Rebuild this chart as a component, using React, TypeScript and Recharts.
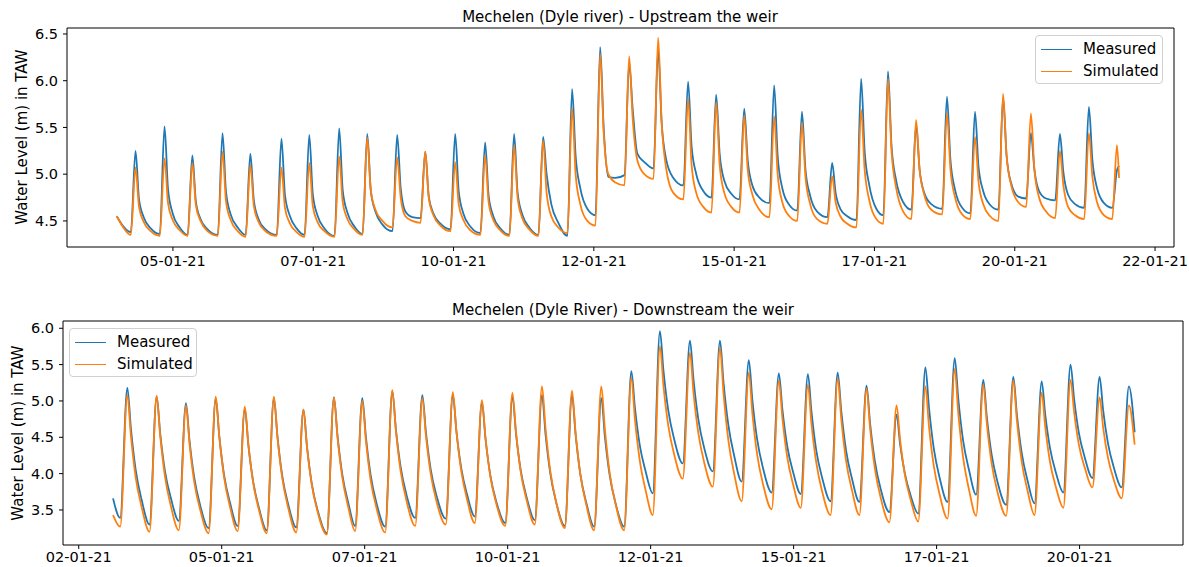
import React from "react";
import { LineChart, Line, XAxis, YAxis, ReferenceArea } from "recharts";

// upstream panel: hours since 04-01-21 00:00
const upHours = [
  0, 2.5,
  6.0, 8.0, 9.5, 11.5, 14.5,
  18.4, 20.4, 21.9, 23.9, 26.9,
  30.3, 32.3, 33.8, 35.8, 38.8,
  43.2, 45.2, 46.7, 48.7, 51.7,
  55.1, 57.1, 58.6, 60.6, 63.6,
  68.4, 70.4, 71.9, 73.9, 76.9,
  80.3, 82.3, 83.8, 85.8, 88.8,
  93.1, 95.1, 96.6, 98.6, 101.6,
  105.1, 107.1, 108.6, 110.6, 113.6,
  117.9, 119.9, 121.4, 123.4, 126.4,
  129.9, 131.9, 133.4, 135.4, 138.4,
  142.7, 144.7, 146.2, 148.2, 151.2,
  155.5, 157.5, 159.0, 161.0, 164.0,
  167.9, 169.9, 171.4, 173.4, 176.4,
  180.3, 182.3, 183.8, 185.8, 188.8,
  192.7, 194.7, 196.2, 198.2, 201.2,
  204.7, 206.7, 208.2, 210.2, 213.2,
  217.1, 219.1, 220.6, 222.6, 225.6,
  229.5, 231.5, 233.0, 235.0, 238.0,
  242.3, 244.3, 245.8, 247.8, 250.8,
  254.3, 256.3, 257.8, 259.8, 262.8,
  266.3, 268.3, 269.8, 271.8, 274.8,
  279.1, 281.1, 282.6, 284.6, 287.6,
  291.0, 293.0, 294.5, 296.5, 299.5,
  303.9, 305.9, 307.4, 309.4, 312.4,
  316.3, 318.3, 319.8, 321.8, 324.8,
  327.8, 329.8, 331.3, 333.3, 336.3,
  339.8, 341.8, 343.3, 345.3, 348.3,
  353.0, 355.0, 356.5, 358.5, 361.5,
  365.0, 367.0, 368.5, 370.5, 373.5,
  377.0, 379.0, 380.5, 382.5, 385.5,
  388.9, 390.9, 392.4, 394.4, 397.4,
  401.3, 403.3, 404.8, 406.8, 409.8,
  413.7, 415.7, 417.2, 419.2, 422.2,
  425.7, 427.7, 428.6,
];

const upMeasured = [
  4.55, 4.45,
  4.38, 5.25, 4.73, 4.54, 4.42,
  4.36, 5.51, 4.84, 4.58, 4.43,
  4.35, 5.20, 4.71, 4.52, 4.41,
  4.35, 5.44, 4.81, 4.57, 4.43,
  4.35, 5.22, 4.72, 4.52, 4.41,
  4.35, 5.38, 4.78, 4.56, 4.42,
  4.35, 5.42, 4.79, 4.56, 4.42,
  4.34, 5.49, 4.83, 4.59, 4.44,
  4.36, 5.43, 4.83, 4.60, 4.46,
  4.39, 5.42, 4.85, 4.60, 4.54,
  4.53, 5.24, 4.76, 4.58, 4.47,
  4.41, 5.43, 4.82, 4.58, 4.44,
  4.37, 5.34, 4.77, 4.55, 4.42,
  4.35, 5.43, 4.80, 4.57, 4.43,
  4.35, 5.40, 5.00, 4.68, 4.48,
  4.34, 5.91, 5.20, 4.85, 4.63,
  4.56, 6.36, 5.50, 4.97, 4.96,
  4.99, 6.19, 5.70, 5.22, 5.13,
  5.06, 6.33, 5.55, 5.15, 4.96,
  4.88, 5.99, 5.30, 5.00, 4.82,
  4.75, 5.85, 5.22, 4.93, 4.79,
  4.73, 5.70, 5.15, 4.88, 4.75,
  4.69, 5.95, 5.20, 4.85, 4.67,
  4.61, 5.67, 5.05, 4.77, 4.60,
  4.54, 5.12, 4.80, 4.63, 4.55,
  4.51, 6.02, 5.25, 4.88, 4.63,
  4.56, 6.10, 5.30, 4.93, 4.70,
  4.62, 5.53, 5.05, 4.80, 4.68,
  4.63, 5.83, 5.15, 4.83, 4.64,
  4.58, 5.67, 5.08, 4.82, 4.67,
  4.62, 5.82, 5.20, 4.90, 4.76,
  4.74, 5.44, 5.05, 4.82, 4.74,
  4.72, 5.43, 5.02, 4.78, 4.68,
  4.64, 5.72, 5.15, 4.85, 4.69,
  4.64, 5.04, 5.09,
];

const upSimulated = [
  4.55, 4.44,
  4.35, 5.07, 4.65, 4.49, 4.39,
  4.34, 5.17, 4.69, 4.51, 4.40,
  4.34, 5.12, 4.67, 4.50, 4.39,
  4.34, 5.24, 4.71, 4.51, 4.39,
  4.33, 5.10, 4.66, 4.49, 4.39,
  4.34, 5.07, 4.64, 4.48, 4.38,
  4.33, 5.12, 4.66, 4.49, 4.39,
  4.33, 5.19, 4.70, 4.52, 4.41,
  4.35, 5.39, 4.83, 4.62, 4.50,
  4.43, 5.18, 4.75, 4.55, 4.50,
  4.48, 5.24, 4.75, 4.56, 4.45,
  4.39, 5.13, 4.68, 4.51, 4.40,
  4.35, 5.20, 4.70, 4.51, 4.40,
  4.34, 5.31, 4.75, 4.53, 4.41,
  4.34, 5.36, 4.80, 4.55, 4.43,
  4.37, 5.71, 5.00, 4.68, 4.50,
  4.45, 6.29, 5.45, 5.00, 4.91,
  4.88, 6.26, 5.60, 5.15, 5.00,
  4.95, 6.46, 5.55, 5.05, 4.80,
  4.73, 5.81, 5.10, 4.80, 4.65,
  4.59, 5.77, 5.10, 4.80, 4.65,
  4.59, 5.63, 5.05, 4.78, 4.62,
  4.54, 5.62, 5.00, 4.70, 4.55,
  4.50, 5.55, 4.97, 4.68, 4.52,
  4.47, 4.98, 4.70, 4.55, 4.47,
  4.43, 5.69, 5.05, 4.72, 4.52,
  4.47, 6.02, 5.25, 4.85, 4.60,
  4.52, 5.58, 5.05, 4.78, 4.62,
  4.57, 5.65, 5.05, 4.75, 4.57,
  4.52, 5.40, 4.92, 4.68, 4.55,
  4.50, 5.86, 5.20, 4.88, 4.70,
  4.65, 5.65, 5.05, 4.75, 4.60,
  4.53, 5.25, 4.88, 4.65, 4.56,
  4.52, 5.44, 4.97, 4.70, 4.56,
  4.52, 5.31, 4.96,
];

const upTicks = [24, 84, 144, 204, 264, 324, 384, 444];
const upTickLabels = ["05-01-21", "07-01-21", "10-01-21", "12-01-21", "15-01-21", "17-01-21", "20-01-21", "22-01-21"];
const upLevelTicks = [4.5, 5.0, 5.5, 6.0, 6.5];

// downstream panel: hours since 03-01-21 00:00
const downHours = [
  2.4,
  5.4, 8.4, 9.9, 11.9, 14.4,
  17.7, 20.7, 22.2, 24.2, 26.7,
  30.0, 33.0, 34.5, 36.5, 39.0,
  42.5, 45.5, 47.0, 49.0, 51.5,
  54.7, 57.7, 59.2, 61.2, 63.7,
  66.9, 69.9, 71.4, 73.4, 75.9,
  79.3, 82.3, 83.8, 85.8, 88.3,
  92.1, 95.1, 96.6, 98.6, 101.1,
  104.0, 107.0, 108.5, 110.5, 113.0,
  116.6, 119.6, 121.1, 123.1, 125.6,
  129.2, 132.2, 133.7, 135.7, 138.2,
  142.0, 145.0, 146.5, 148.5, 151.0,
  154.2, 157.2, 158.7, 160.7, 163.2,
  167.0, 170.0, 171.5, 173.5, 176.0,
  179.4, 182.4, 183.9, 185.9, 188.4,
  192.0, 195.0, 196.5, 198.5, 201.0,
  204.3, 207.3, 208.8, 210.8, 213.3,
  216.9, 219.9, 221.4, 223.4, 225.9,
  228.9, 231.9, 233.4, 235.4, 237.9,
  241.5, 244.5, 246.0, 248.0, 250.5,
  254.1, 257.1, 258.6, 260.6, 263.1,
  266.2, 269.2, 270.7, 272.7, 275.2,
  278.8, 281.8, 283.3, 285.3, 287.8,
  291.0, 294.0, 295.5, 297.5, 300.0,
  303.5, 306.5, 308.0, 310.0, 312.5,
  315.6, 318.6, 320.1, 322.1, 324.6,
  328.2, 331.2, 332.7, 334.7, 337.2,
  340.3, 343.3, 344.8, 346.8, 349.3,
  352.6, 355.6, 357.1, 359.1, 361.6,
  364.6, 367.6, 369.1, 371.1, 373.6,
  377.2, 380.2, 381.7, 383.7, 386.2,
  389.1, 392.1, 393.6, 395.6, 398.1,
  401.2, 404.2, 405.7, 407.7, 410.2,
  413.4, 416.4, 417.9, 419.9, 422.4,
  425.7, 428.7, 431.1,
];

const downMeasured = [
  3.66,
  3.39, 5.18, 4.62, 4.05, 3.64,
  3.30, 5.06, 4.55, 4.03, 3.66,
  3.35, 4.97, 4.45, 3.94, 3.56,
  3.25, 5.03, 4.51, 3.98, 3.60,
  3.28, 4.89, 4.39, 3.89, 3.52,
  3.22, 5.04, 4.51, 3.97, 3.58,
  3.26, 4.88, 4.37, 3.86, 3.49,
  3.18, 5.05, 4.52, 3.99, 3.60,
  3.28, 5.04, 4.51, 3.98, 3.59,
  3.27, 5.13, 4.61, 4.09, 3.70,
  3.39, 5.08, 4.57, 4.06, 3.69,
  3.38, 5.08, 4.58, 4.08, 3.71,
  3.41, 4.98, 4.48, 3.98, 3.62,
  3.32, 5.06, 4.55, 4.04, 3.67,
  3.36, 5.08, 4.54, 4.00, 3.60,
  3.28, 5.08, 4.54, 3.99, 3.60,
  3.27, 5.04, 4.51, 3.98, 3.59,
  3.27, 5.41, 4.91, 4.40, 4.03,
  3.73, 5.96, 5.41, 4.87, 4.47,
  4.14, 5.83, 5.29, 4.75, 4.35,
  4.03, 5.83, 5.25, 4.67, 4.24,
  3.89, 5.56, 5.01, 4.47, 4.07,
  3.74, 5.38, 4.88, 4.38, 4.02,
  3.72, 5.37, 4.85, 4.32, 3.94,
  3.62, 5.39, 4.86, 4.32, 3.93,
  3.61, 5.21, 4.69, 4.17, 3.78,
  3.47, 4.81, 4.40, 4.00, 3.69,
  3.45, 5.46, 4.91, 4.35, 3.94,
  3.61, 5.59, 5.03, 4.46, 4.05,
  3.71, 5.29, 4.77, 4.26, 3.88,
  3.57, 5.33, 4.81, 4.29, 3.90,
  3.59, 5.27, 4.81, 4.35, 4.01,
  3.74, 5.50, 5.03, 4.56, 4.22,
  3.94, 5.33, 4.87, 4.42, 4.08,
  3.81, 5.20, 4.57,
];

const downSimulated = [
  3.43,
  3.27, 5.08, 4.52, 3.95, 3.54,
  3.20, 5.07, 4.52, 3.96, 3.55,
  3.22, 4.94, 4.41, 3.88, 3.50,
  3.18, 5.06, 4.51, 3.95, 3.54,
  3.21, 4.92, 4.40, 3.88, 3.49,
  3.18, 5.06, 4.50, 3.94, 3.53,
  3.19, 4.88, 4.36, 3.85, 3.47,
  3.16, 5.05, 4.50, 3.95, 3.54,
  3.21, 5.00, 4.46, 3.91, 3.52,
  3.19, 5.15, 4.59, 4.03, 3.62,
  3.28, 5.04, 4.52, 4.00, 3.61,
  3.30, 5.12, 4.58, 4.04, 3.64,
  3.32, 5.01, 4.49, 3.97, 3.59,
  3.28, 5.11, 4.57, 4.02, 3.63,
  3.30, 5.20, 4.62, 4.03, 3.60,
  3.25, 5.14, 4.56, 3.99, 3.57,
  3.22, 5.20, 4.61, 4.01, 3.58,
  3.22, 5.32, 4.75, 4.19, 3.77,
  3.43, 5.75, 5.20, 4.66, 4.26,
  3.93, 5.66, 5.11, 4.56, 4.15,
  3.82, 5.73, 5.10, 4.46, 3.99,
  3.62, 5.39, 4.83, 4.26, 3.85,
  3.51, 5.28, 4.76, 4.23, 3.85,
  3.53, 5.22, 4.68, 4.15, 3.75,
  3.43, 5.31, 4.75, 4.18, 3.77,
  3.43, 5.17, 4.62, 4.07, 3.66,
  3.33, 4.94, 4.46, 3.98, 3.63,
  3.34, 5.20, 4.65, 4.11, 3.71,
  3.38, 5.44, 4.83, 4.23, 3.78,
  3.42, 5.22, 4.68, 4.14, 3.74,
  3.42, 5.28, 4.73, 4.17, 3.76,
  3.43, 5.11, 4.64, 4.16, 3.81,
  3.53, 5.29, 4.85, 4.40, 4.08,
  3.81, 5.05, 4.63, 4.22, 3.91,
  3.66, 4.94, 4.40,
];

const downTicks = [-12, 48, 108, 168, 228, 288, 348, 408];
const downTickLabels = ["02-01-21", "05-01-21", "07-01-21", "10-01-21", "12-01-21", "15-01-21", "17-01-21", "20-01-21"];
const downLevelTicks = [3.5, 4.0, 4.5, 5.0, 5.5, 6.0];

const FONT = '"DejaVu Sans", "Liberation Sans", sans-serif';
const BLUE = "#1f77b4";
const ORANGE = "#ff7f0e";

const toRows = (hours: number[], measured: number[], simulated: number[]) =>
  hours.map((t, i) => ({ t, measured: measured[i], simulated: simulated[i] }));

function Panel({ rows, xDomain, xTicks, xLabels, yDomain, yTicks, height, margin, yWidth, xHeight, tickGap }: any) {
  const tickStyle = { fill: "#000", fontSize: 14.5, fontFamily: FONT };
  return (
    <LineChart width={1189} height={height} data={rows} margin={margin}>
      <XAxis
        dataKey="t" type="number" domain={xDomain} ticks={xTicks} interval={0} allowDataOverflow
        tickFormatter={(v: number) => xLabels[xTicks.indexOf(v)] ?? ""}
        axisLine={false} tickLine={{ stroke: "#000" }} tickSize={4} tickMargin={tickGap}
        height={xHeight} tick={tickStyle}
      />
      <YAxis
        type="number" domain={yDomain} ticks={yTicks} interval={0} allowDataOverflow
        tickFormatter={(v: number) => v.toFixed(1)}
        axisLine={false} tickLine={{ stroke: "#000" }} tickSize={4} tickMargin={5}
        width={yWidth} tick={tickStyle}
      />
      <Line dataKey="measured" type="monotone" stroke={BLUE} strokeWidth={1.8} dot={false} isAnimationActive={false} />
      <Line dataKey="simulated" type="monotone" stroke={ORANGE} strokeWidth={1.8} dot={false} isAnimationActive={false} />
      <ReferenceArea
        x1={xDomain[0]} x2={xDomain[1]} y1={yDomain[0]} y2={yDomain[1]}
        fill="none" stroke="#000" strokeWidth={1} ifOverflow="visible"
      />
    </LineChart>
  );
}

function LegendBox({ left, top }: { left: number; top: number }) {
  const row = (color: string, label: string) => (
    <div style={{ display: "flex", alignItems: "center", height: 22 }}>
      <div style={{ width: 31, height: 0, borderTop: `1.8px solid ${color}`, marginRight: 11 }} />
      <span>{label}</span>
    </div>
  );
  return (
    <div
      style={{
        position: "absolute", left, top, width: 128, height: 49, boxSizing: "border-box",
        border: "1px solid #d0d0d0", borderRadius: 4, background: "rgba(255,255,255,0.85)",
        padding: "2px 0 0 5px", fontFamily: FONT, fontSize: 15, color: "#000",
      }}
    >
      {row(BLUE, "Measured")}
      {row(ORANGE, "Simulated")}
    </div>
  );
}

const text = (content: string, left: number, top: number, rotate = false) => (
  <div
    style={{
      position: "absolute", left, top, whiteSpace: "nowrap", fontFamily: FONT, fontSize: 15, color: "#000",
      transform: rotate ? "translate(-50%, -50%) rotate(-90deg)" : "translate(-50%, -50%)",
    }}
  >
    {content}
  </div>
);

export default function App() {
  const upRows = toRows(upHours, upMeasured, upSimulated);
  const downRows = toRows(downHours, downMeasured, downSimulated);
  return (
    <div style={{ position: "absolute", left: 0, top: 0, width: 1189, height: 567, background: "#fff", overflow: "hidden" }}>
      <div style={{ position: "absolute", left: 0, top: 0 }}>
        <Panel
          rows={upRows} xDomain={[-21.3, 452.1]} xTicks={upTicks} xLabels={upTickLabels}
          yDomain={[4.221, 6.564]} yTicks={upLevelTicks} height={277}
          margin={{ top: 28, right: 15, bottom: 0, left: 0 }} yWidth={67} xHeight={30} tickGap={5}
        />
      </div>
      <div style={{ position: "absolute", left: 0, top: 283 }}>
        <Panel
          rows={downRows} xDomain={[-18.6, 451.4]} xTicks={downTicks} xLabels={downTickLabels}
          yDomain={[3.018, 6.1]} yTicks={downLevelTicks} height={284}
          margin={{ top: 38, right: 6, bottom: 0, left: 0 }} yWidth={63} xHeight={22} tickGap={3}
        />
      </div>
      {text("Mechelen (Dyle river) - Upstream the weir", 620, 17)}
      {text("Mechelen (Dyle River) - Downstream the weir", 623, 310)}
      {text("Water Level (m) in TAW", 22, 137, true)}
      {text("Water Level (m) in TAW", 18, 433, true)}
      <LegendBox left={1035} top={35} />
      <LegendBox left={69} top={328} />
    </div>
  );
}
